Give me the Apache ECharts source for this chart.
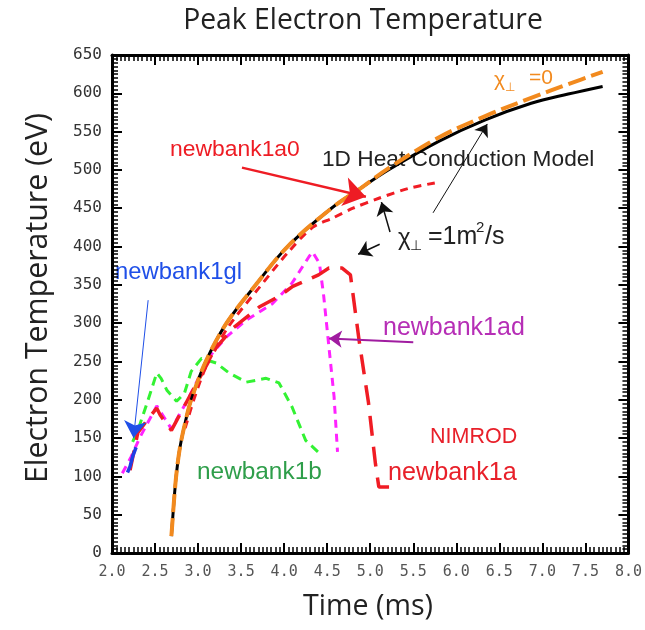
<!DOCTYPE html>
<html>
<head>
<meta charset="utf-8">
<script src="https://cdn.jsdelivr.net/npm/echarts@6/dist/echarts.min.js"></script>
<style>
  html, body { margin: 0; padding: 0; background: #fff; }
  #chart { width: 645px; height: 630px; }
</style>
</head>
<body>
<div id="chart"></div>
<script>
// Axis ticks
const xTicks = [2.0, 2.5, 3.0, 3.5, 4.0, 4.5, 5.0, 5.5, 6.0, 6.5, 7.0, 7.5, 8.0];
const yTicks = [0, 50, 100, 150, 200, 250, 300, 350, 400, 450, 500, 550, 600, 650];

// 1D heat conduction model (black solid)
const tModel  = [2.69, 2.705, 2.725, 2.75, 2.79, 2.85, 2.92, 3.09, 3.33, 3.67, 4.04, 4.55, 4.90, 5.21, 5.79, 6.33, 6.87, 7.30, 7.70];
const teModel = [22, 45, 75, 105, 138, 170, 200, 250, 300, 350, 400, 450, 477, 500, 537, 565, 587, 599, 609];

// Model with chi_perp = 0 (orange dashed)
const tChi0  = [2.69, 2.705, 2.725, 2.75, 2.79, 2.85, 2.92, 3.09, 3.33, 3.67, 4.04, 4.55, 4.90, 5.21, 5.79, 6.33, 6.87, 7.30, 7.70];
const teChi0 = [22, 45, 75, 105, 138, 170, 200, 250, 300, 350, 400, 450, 477, 502, 542, 570, 594, 612, 628];

// newbank1a0, chi_perp = 1 m^2/s (red short dash)
const tA0  = [2.85, 2.95, 3.10, 3.35, 3.70, 4.05, 4.33, 4.56, 4.80, 5.10, 5.45, 5.75];
const teA0 = [163, 200, 245, 295, 345, 393, 425, 437, 450, 463, 476, 483];

// NIMROD newbank1a (red long dash)
const tA  = [2.21, 2.30, 2.44, 2.52, 2.56, 2.69, 2.88, 3.05, 3.21, 3.40, 3.71, 3.94, 4.10, 4.40, 4.52, 4.67, 4.77, 4.87, 4.98, 5.06, 5.10, 5.18, 5.29];
const teA = [108, 157, 178, 189, 180, 160, 200, 235, 268, 293, 321, 335, 348, 363, 372, 372, 363, 278, 196, 117, 86, 86, 86];

// newbank1ad (magenta short dash)
const tAd  = [2.12, 2.22, 2.32, 2.52, 2.69, 2.88, 3.13, 3.33, 3.56, 3.86, 4.09, 4.29, 4.33, 4.41, 4.46, 4.52, 4.58, 4.62];
const teAd = [104, 125, 150, 192, 162, 200, 256, 282, 304, 325, 352, 387, 393, 378, 335, 269, 204, 132];

// newbank1b (green dash)
const tB  = [2.24, 2.30, 2.42, 2.52, 2.57, 2.64, 2.75, 2.84, 2.92, 3.04, 3.21, 3.36, 3.56, 3.79, 3.94, 4.09, 4.25, 4.43];
const teB = [145, 160, 200, 235, 228, 212, 198, 208, 237, 254, 248, 235, 223, 228, 222, 191, 147, 128];

// newbank1gl (blue solid)
const tGl  = [2.18, 2.21, 2.24, 2.28];
const teGl = [105, 113, 126, 138];

const pairs = (xs, ys) => xs.map((x, i) => [x, ys[i]]);

// font size that makes a string span the given width
const measureCtx = document.createElement('canvas').getContext('2d');
function fitSize(text, family, width) {
  measureCtx.font = '100px ' + family;
  return Math.round(1000 * width / measureCtx.measureText(text).width) / 10;
}

const TITLE_FONT = '"Open Sans"';
const NOTE_FONT = '"Liberation Sans"';

function label(text, x, y, color, width) {
  const size = fitSize(text, NOTE_FONT, width);
  return {
    type: 'text', x: x, y: y,
    style: { text: text, font: size + 'px ' + NOTE_FONT, fill: color, textVerticalAlign: 'middle' }
  };
}

function title(text, x, y, width, rotation) {
  const size = fitSize(text, TITLE_FONT, width);
  return {
    type: 'text', x: x, y: y, rotation: rotation || 0,
    style: { text: text, font: size + 'px ' + TITLE_FONT, fill: '#222', textAlign: 'center', textVerticalAlign: 'middle' }
  };
}

const chart = echarts.init(document.getElementById('chart'), null, { renderer: 'canvas' });

const frame = { show: true, onZero: false, lineStyle: { color: '#000', width: 3 } };
const majorTick = { show: true, inside: true, length: 10, lineStyle: { color: '#000', width: 2 } };
const fineTick = { show: true, inside: true, length: 6, lineStyle: { color: '#000', width: 1.5 } };

// framed axis: labelled major ticks on one side, mirrored ticks on the other
function xFrame(position, labelled) {
  return {
    type: 'value', position: position, min: 2, max: 8, interval: 0.5,
    axisLine: frame, axisTick: majorTick, splitLine: { show: false },
    axisLabel: labelled ? {
      margin: 12, color: '#555', fontSize: 15, fontFamily: 'DejaVu Sans Mono',
      formatter: v => (xTicks.indexOf(v) >= 0 ? v.toFixed(1) : '')
    } : { show: false }
  };
}
function yFrame(position, labelled) {
  return {
    type: 'value', position: position, min: 0, max: 650, interval: 50,
    axisLine: frame, axisTick: majorTick, splitLine: { show: false },
    axisLabel: labelled ? {
      margin: 10, color: '#333', fontSize: 16, fontFamily: 'DejaVu Sans Mono',
      formatter: v => (yTicks.indexOf(v) >= 0 ? String(v) : '')
    } : { show: false }
  };
}
// fine ruler ticks (0.05 ms and 5 eV)
function xFine(position) {
  return {
    type: 'value', position: position, min: 2, max: 8, interval: 0.05, offset: 0,
    axisLine: { show: false, onZero: false }, axisTick: fineTick,
    axisLabel: { show: false }, splitLine: { show: false }
  };
}
function yFine(position) {
  return {
    type: 'value', position: position, min: 0, max: 650, interval: 5, offset: 0,
    axisLine: { show: false, onZero: false }, axisTick: fineTick,
    axisLabel: { show: false }, splitLine: { show: false }
  };
}

function arrow(from, to, color, width, head) {
  return [
    { coord: from, lineStyle: { color: color, width: width, type: 'solid' }, symbolSize: 0 },
    { coord: to, symbolSize: head, itemStyle: { color: color } }
  ];
}

const option = {
  backgroundColor: '#fff',
  animation: false,
  grid: { left: 112, right: 13, top: 55, bottom: 77 },
  xAxis: [xFrame('bottom', true), xFrame('top', false), xFine('bottom'), xFine('top')],
  yAxis: [yFrame('left', true), yFrame('right', false), yFine('left'), yFine('right')],
  series: [
    {
      name: 'newbank1b', type: 'line', data: pairs(tB, teB), symbol: 'none',
      lineStyle: { color: '#33f233', width: 3, type: [9, 6] }
    },
    {
      name: 'newbank1ad', type: 'line', data: pairs(tAd, teAd), symbol: 'none',
      lineStyle: { color: '#ff22ff', width: 3, type: [8, 6] }
    },
    {
      name: 'newbank1a', type: 'line', data: pairs(tA, teA), symbol: 'none',
      lineStyle: { color: '#f01c24', width: 3.5, type: [20, 11] }
    },
    {
      name: 'newbank1gl', type: 'line', data: pairs(tGl, teGl), symbol: 'none',
      lineStyle: { color: '#1f3fe6', width: 3.5 }
    },
    {
      name: '1D Heat Conduction Model', type: 'line', data: pairs(tModel, teModel), symbol: 'none',
      smooth: 0.35,
      lineStyle: { color: '#000', width: 3 },
      markLine: {
        silent: true, animation: false, symbol: ['none', 'arrow'],
        label: { show: false },
        emphasis: { disabled: true },
        data: [
          arrow([3.51, 503], [4.95, 465], '#ee1c24', 2.5, 22),
          arrow([5.73, 444], [6.36, 560], '#111', 1, 12),
          arrow([5.23, 419], [5.13, 458], '#111', 1.5, 13),
          arrow([5.11, 403], [4.86, 390], '#111', 1.5, 13),
          arrow([2.42, 330], [2.25, 150], '#1f4fe8', 1, 17),
          arrow([5.50, 275], [4.52, 280], '#a01ca0', 2, 13)
        ]
      }
    },
    {
      name: 'newbank1a0', type: 'line', data: pairs(tA0, teA0), symbol: 'none',
      smooth: 0.3,
      lineStyle: { color: '#f01c24', width: 3, type: [8, 6] }
    },
    {
      name: 'chi0', type: 'line', data: pairs(tChi0, teChi0), symbol: 'none',
      smooth: 0.35,
      lineStyle: { color: '#f28a1e', width: 4, type: [18, 6] }
    }
  ],
  graphic: [
    title('Peak Electron Temperature', 363, 21, 360),
    title('Time (ms)', 368, 607, 130),
    title('Electron Temperature (eV)', 38, 298, 370, Math.PI / 2),

    label('newbank1a0', 170, 150, '#ee1c24', 130),
    label('1D Heat Conduction Model', 322, 160, '#222', 273),

    { type: 'text', x: 398, y: 238, style: { text: 'χ', font: '24px "Liberation Sans"', fill: '#222', textVerticalAlign: 'middle' } },
    { type: 'text', x: 410, y: 246, style: { text: '⊥', font: '14px "DejaVu Sans"', fill: '#222', textVerticalAlign: 'middle' } },
    { type: 'text', x: 428, y: 237, style: { text: '=1m', font: '25px "Liberation Sans"', fill: '#222', textVerticalAlign: 'middle' } },
    { type: 'text', x: 476, y: 228, style: { text: '2', font: '15px "Liberation Sans"', fill: '#222', textVerticalAlign: 'middle' } },
    { type: 'text', x: 485, y: 237, style: { text: '/s', font: '25px "Liberation Sans"', fill: '#222', textVerticalAlign: 'middle' } },

    { type: 'text', x: 494, y: 80, style: { text: 'χ', font: '21px "Liberation Sans"', fill: '#f28a1e', textVerticalAlign: 'middle' } },
    { type: 'text', x: 505, y: 88, style: { text: '⊥', font: '12px "DejaVu Sans"', fill: '#f28a1e', textVerticalAlign: 'middle' } },
    { type: 'text', x: 529, y: 78, style: { text: '=0', font: '21px "Liberation Sans"', fill: '#f28a1e', textVerticalAlign: 'middle' } },

    label('newbank1gl', 115, 272, '#1f4fe8', 127),
    label('newbank1ad', 383, 328, '#b62eb6', 142),
    label('NIMROD', 430, 437, '#e8202a', 87),
    label('newbank1a', 388, 473, '#e8202a', 129),
    label('newbank1b', 197, 472, '#2e9e4a', 125)
  ]
};

chart.setOption(option);
</script>
</body>
</html>
